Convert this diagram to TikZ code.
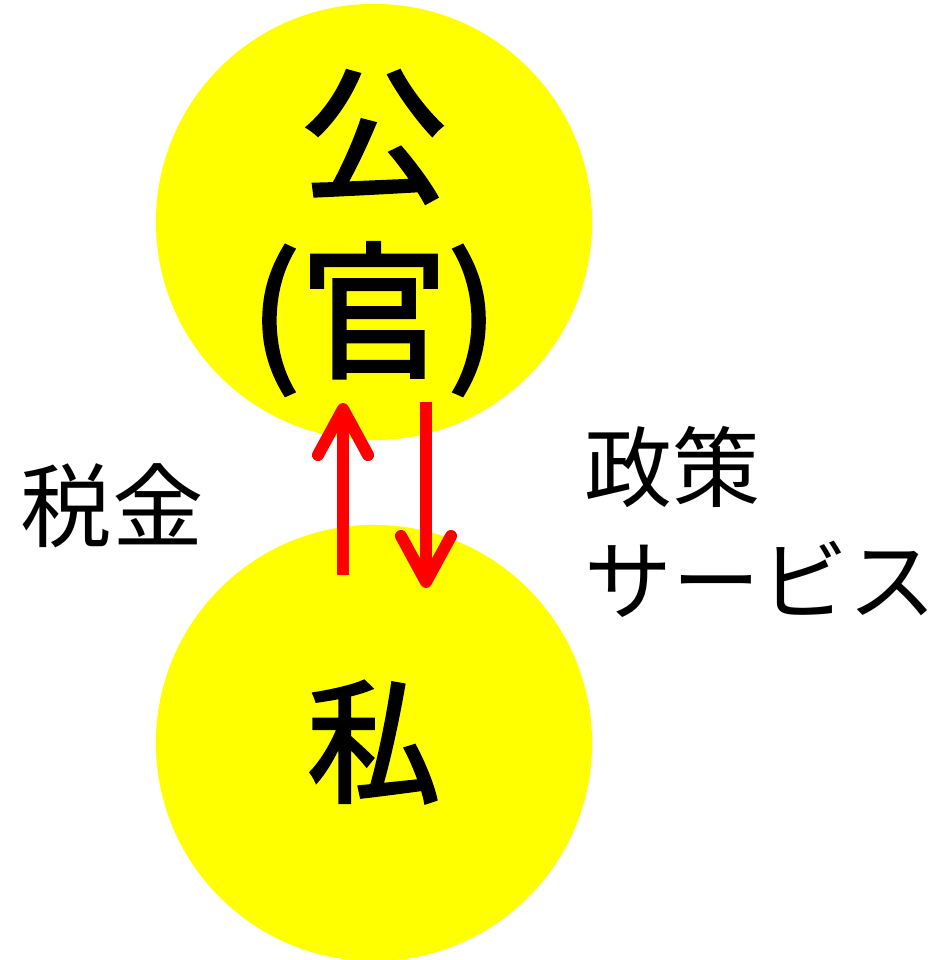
\documentclass[tikz,border=0pt]{standalone}
\usepackage{fontspec}
\setmainfont{Noto Sans CJK JP}
\newfontfamily\heavyjp[FakeBold=2.2]{Noto Sans CJK JP}
\usetikzlibrary{arrows.meta, positioning}
\definecolor{sun}{RGB}{255,255,0}
\definecolor{signal}{RGB}{255,0,0}

\begin{document}
\begin{tikzpicture}[x=0.01cm, y=-0.01cm,
    circ/.style={circle, fill=sun, minimum size=4.36cm, inner sep=0pt},
    big/.style={align=center, inner sep=0pt, font=\heavyjp\fontsize{42}{50}\selectfont},
    word/.style={align=left, inner sep=0pt, font=\fontsize{25}{32}\selectfont},
    arrow/.style={signal, line width=1.2mm, -{Straight Barb[length=4.6mm, width=5mm, round]}}
]
\useasboundingbox (0,0) rectangle (941,960);

\node[circ] (gong) at (374,222) {};
\node[circ] (shi) at (374,743) {};

\node[big] (gongtext) at (374,233) {公\\(官)};
\node[big, font=\heavyjp\fontsize{38}{44}\selectfont] (shitext) at (374,742) {私};

\coordinate (taxfrom) at (343,575);
\coordinate (taxto) at (343,403);
\coordinate (servfrom) at (426,402);
\coordinate (servto) at (426,588);

\draw[arrow] (taxfrom) -- (taxto);
\draw[arrow] (servfrom) -- (servto);

\node[word, font=\fontsize{26}{32}\selectfont] (tax) at (112,506) {税金};
\node[word, anchor=west] (policy) at (584,522) {政策\\サービス};
\end{tikzpicture}
\end{document}
